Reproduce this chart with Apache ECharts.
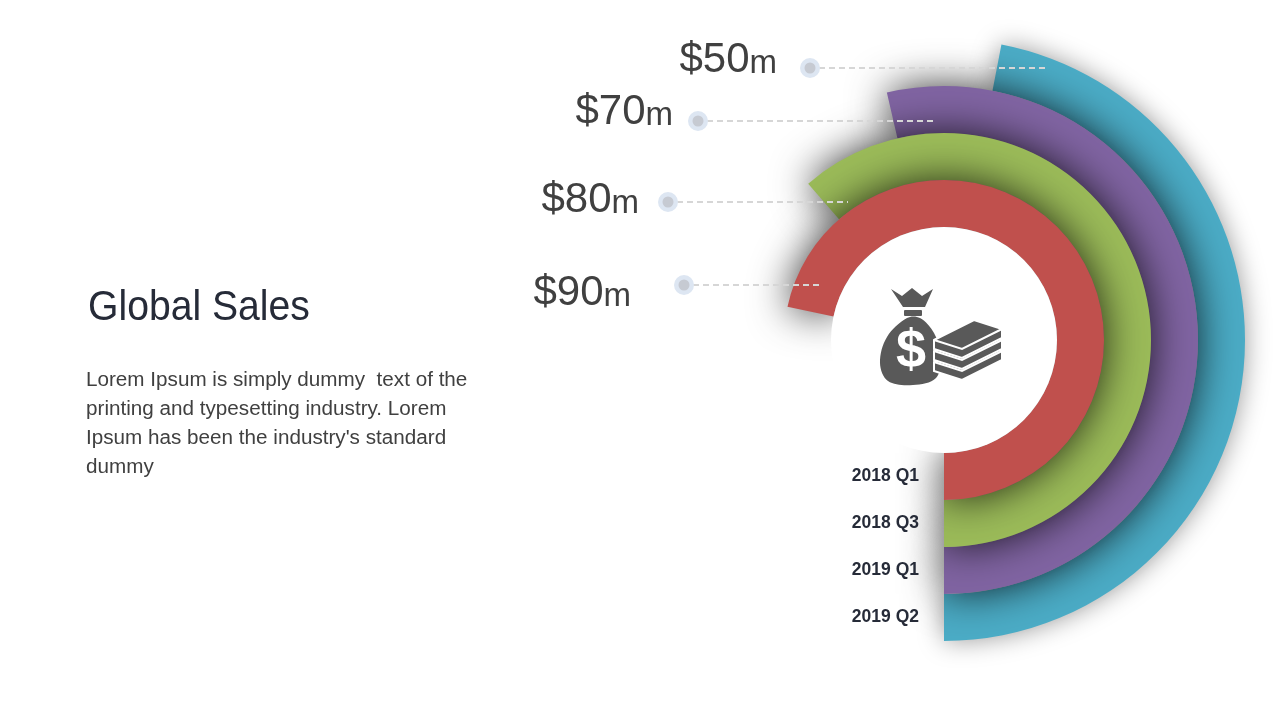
<!DOCTYPE html>
<html>
<head>
<meta charset="utf-8">
<script src="https://cdn.jsdelivr.net/npm/echarts@6/dist/echarts.min.js"></script>
<style>
  html, body { margin: 0; padding: 0; background: #fff; }
  #chart { width: 1280px; height: 720px; }
</style>
</head>
<body>
<div id="chart"></div>
<script>
// rings, innermost first
const quarters = ['2018 Q1', '2018 Q3', '2019 Q1', '2019 Q2'];
// sales in $m written on the callouts
const sales = [90, 80, 70, 50];
// how far each ring sweeps round, in degrees
const arcDegrees = [258, 221, 193, 169];
const ringColors = ['#c0504d', '#9bbb59', '#8064a2', '#4bacc6'];

const title = 'Global Sales';
const bodyLines = [
  'Lorem Ipsum is simply dummy  text of the',
  'printing and typesetting industry. Lorem',
  "Ipsum has been the industry's standard",
  'dummy'
];

const FONT = '"Liberation Sans", Arial, sans-serif';
const center = [944, 340];
const ringRadius = [113, 301];
const iconColor = '#595959';

const chart = echarts.init(document.getElementById('chart'));

// one series per ring so the inner ring sits on top and drops its shadow outward
const ringSeries = quarters.map((q, i) => {
  const outer = i === quarters.length - 1;
  return {
    type: 'bar',
    coordinateSystem: 'polar',
    name: q,
    clip: false,
    data: quarters.map((_, j) => (j === i ? {
      value: arcDegrees[i],
      itemStyle: {
        color: ringColors[i],
        shadowBlur: outer ? 26 : 40,
        shadowColor: outer ? 'rgba(0,0,0,0.4)' : 'rgba(0,0,0,0.8)'
      }
    } : '-')),
    barGap: '-100%',
    barCategoryGap: '0%',
    z: 6 - i,
    silent: true
  };
});

// white disc in the middle hides the inward shadow of the red ring
const centerDisc = {
  type: 'pie',
  center: center,
  radius: [0, ringRadius[0]],
  silent: true,
  z: 7,
  label: { show: false },
  labelLine: { show: false },
  data: [{ value: 1, itemStyle: { color: '#fff' } }]
};

// callout placement next to the end of each ring
const calloutLayout = [
  { right: 631, baseline: 308, dot: [684, 285], lineEnd: 822 },
  { right: 639, baseline: 215, dot: [668, 202], lineEnd: 848 },
  { right: 673, baseline: 127, dot: [698, 121], lineEnd: 936 },
  { right: 777, baseline: 75, dot: [810, 68], lineEnd: 1048 }
];

const measure = document.createElement('canvas').getContext('2d');
const textWidth = (str, font) => { measure.font = font; return measure.measureText(str).width; };

const txt = (x, y, text, font, fill, align, extra) => Object.assign({
  type: 'text',
  x: x,
  y: y,
  z: 100,
  silent: true,
  style: {
    x: 0, y: 0, text: text, font: font, fill: fill,
    textAlign: align, align: align,
    textVerticalAlign: 'middle', verticalAlign: 'middle'
  }
}, extra || {});

const callouts = [];
sales.forEach((v, i) => {
  const c = calloutLayout[i];
  const bigFont = '42px ' + FONT;
  const smallFont = '33px ' + FONT;
  const mW = textWidth('m', smallFont);
  callouts.push(txt(c.right, c.baseline - 0.35 * 33, 'm', smallFont, '#404040', 'right'));
  callouts.push(txt(c.right - mW, c.baseline - 0.35 * 42, '$' + v, bigFont, '#404040', 'right'));
  callouts.push({
    type: 'line', z: 100, silent: true,
    shape: { x1: c.dot[0] + 9, y1: c.dot[1], x2: c.lineEnd, y2: c.dot[1] },
    style: { stroke: '#d6d6d6', lineWidth: 2, lineDash: [6, 4] }
  });
  callouts.push({ type: 'circle', z: 100, silent: true, shape: { cx: c.dot[0], cy: c.dot[1], r: 10 }, style: { fill: '#dde6f2' } });
  callouts.push({ type: 'circle', z: 101, silent: true, shape: { cx: c.dot[0], cy: c.dot[1], r: 5.5 }, style: { fill: '#c6cad2' } });
});

// money bag + stack of notes in the middle
const icon = [
  { type: 'polygon', z: 110, shape: { points: [[891, 289], [902, 296], [912, 288], [922, 296], [933, 289], [925, 307], [903, 307]] }, style: { fill: iconColor } },
  { type: 'rect', z: 110, shape: { x: 904, y: 310, width: 18, height: 6, r: 1 }, style: { fill: iconColor } },
  {
    type: 'polygon', z: 110,
    shape: { smooth: 0.35, points: [[907, 318], [920, 318], [934, 333], [941, 356], [936, 378], [913, 385], [888, 381], [880, 363], [887, 337]] },
    style: { fill: iconColor }
  },
  txt(911, 352, '$', 'bold 54px ' + FONT, '#fff', 'center', { z: 111 })
];
for (let k = 2; k >= 0; k--) {
  const dy = k * 11;
  icon.push({
    type: 'polygon', z: 112,
    shape: { points: [[934, 340 + dy], [974, 320 + dy], [1002, 329 + dy], [1002, 338 + dy], [962, 358 + dy], [934, 349 + dy]] },
    style: { fill: iconColor, stroke: '#fff', lineWidth: 2 }
  });
  icon.push({
    type: 'polyline', z: 113,
    shape: { points: [[934, 340 + dy], [962, 349 + dy], [1002, 329 + dy]] },
    style: { stroke: '#fff', lineWidth: 2, fill: null }
  });
}

const bodyFont = '19.5px ' + FONT;
const textBlock = [
  txt(88, 308, title, '43px ' + FONT, '#262b38', 'left', { scaleX: 0.91 })
].concat(bodyLines.map((line, i) =>
  txt(86, 387 + i * 29.3 - 0.35 * 19.5, line, bodyFont, '#404040', 'left', { scaleX: 1.06 })
));

chart.setOption({
  animation: false,
  backgroundColor: '#fff',
  polar: { center: center, radius: ringRadius },
  angleAxis: {
    type: 'value',
    min: 0,
    max: 360,
    startAngle: 270,
    clockwise: false,
    show: false
  },
  radiusAxis: {
    type: 'category',
    data: quarters,
    z: 20,
    axisLine: { show: false },
    axisTick: { show: false },
    splitLine: { show: false },
    axisLabel: {
      interval: 0,
      fontFamily: FONT,
      fontSize: 17.5,
      fontWeight: 'bold',
      color: '#262b38',
      margin: -25,
      align: 'right'
    }
  },
  series: ringSeries.concat([centerDisc]),
  graphic: callouts.concat(icon, textBlock)
});
</script>
</body>
</html>
